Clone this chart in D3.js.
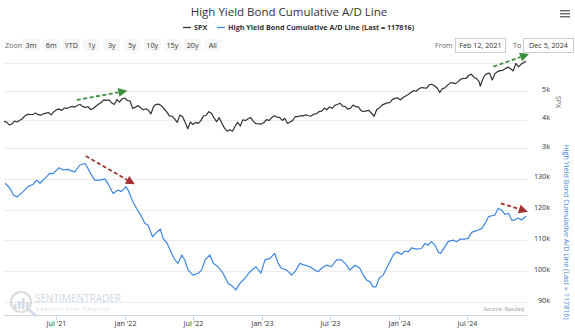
<!DOCTYPE html>
<html><head><meta charset="utf-8">
<script src="https://cdn.jsdelivr.net/npm/d3@7"></script>
<style>
html,body{margin:0;padding:0;background:#fff;}
svg{display:block;font-family:"Open Sans",sans-serif;}
</style></head><body>
<svg id="chart" width="575" height="334"></svg>
<script>
// S&P 500 weekly closes
const spxDates = [
"2021-02-12","2021-02-19","2021-02-26","2021-03-05","2021-03-12","2021-03-19","2021-03-26","2021-04-01","2021-04-09","2021-04-16","2021-04-23","2021-04-30",
"2021-05-07","2021-05-14","2021-05-21","2021-05-28","2021-06-04","2021-06-11","2021-06-18","2021-06-25","2021-07-02","2021-07-09","2021-07-16","2021-07-23","2021-07-30",
"2021-08-06","2021-08-13","2021-08-20","2021-08-27","2021-09-03","2021-09-10","2021-09-17","2021-09-24","2021-10-01","2021-10-08","2021-10-15","2021-10-22","2021-10-29",
"2021-11-05","2021-11-12","2021-11-19","2021-11-26","2021-12-03","2021-12-10","2021-12-17","2021-12-23","2021-12-31",
"2022-01-07","2022-01-14","2022-01-21","2022-01-28","2022-02-04","2022-02-11","2022-02-18","2022-02-25","2022-03-04","2022-03-11","2022-03-18","2022-03-25",
"2022-04-01","2022-04-08","2022-04-14","2022-04-22","2022-04-29","2022-05-06","2022-05-13","2022-05-20","2022-05-27","2022-06-03","2022-06-10","2022-06-17","2022-06-24",
"2022-07-01","2022-07-08","2022-07-15","2022-07-22","2022-07-29","2022-08-05","2022-08-12","2022-08-19","2022-08-26","2022-09-02","2022-09-09","2022-09-16","2022-09-23","2022-09-30",
"2022-10-07","2022-10-14","2022-10-21","2022-10-28","2022-11-04","2022-11-11","2022-11-18","2022-11-25","2022-12-02","2022-12-09","2022-12-16","2022-12-23","2022-12-30",
"2023-01-06","2023-01-13","2023-01-20","2023-01-27","2023-02-03","2023-02-10","2023-02-17","2023-02-24","2023-03-03","2023-03-10","2023-03-17","2023-03-24","2023-03-31",
"2023-04-06","2023-04-14","2023-04-21","2023-04-28","2023-05-05","2023-05-12","2023-05-19","2023-05-26","2023-06-02","2023-06-09","2023-06-16","2023-06-23","2023-06-30",
"2023-07-07","2023-07-14","2023-07-21","2023-07-28","2023-08-04","2023-08-11","2023-08-18","2023-08-25","2023-09-01","2023-09-08","2023-09-15","2023-09-22","2023-09-29",
"2023-10-06","2023-10-13","2023-10-20","2023-10-27","2023-11-03","2023-11-10","2023-11-17","2023-11-24","2023-12-01","2023-12-08","2023-12-15","2023-12-22","2023-12-29",
"2024-01-05","2024-01-12","2024-01-19","2024-01-26","2024-02-02","2024-02-09","2024-02-16","2024-02-23","2024-03-01","2024-03-08","2024-03-15","2024-03-22","2024-03-28",
"2024-04-05","2024-04-12","2024-04-19","2024-04-26","2024-05-03","2024-05-10","2024-05-17","2024-05-24","2024-05-31","2024-06-07","2024-06-14","2024-06-21","2024-06-28",
"2024-07-05","2024-07-12","2024-07-19","2024-07-26","2024-08-02","2024-08-05","2024-08-09","2024-08-16","2024-08-23","2024-08-30","2024-09-06","2024-09-13","2024-09-20","2024-09-27",
"2024-10-04","2024-10-11","2024-10-18","2024-10-25","2024-11-01","2024-11-08","2024-11-15","2024-11-22","2024-11-29","2024-12-05"
];
const spxValues = [
3934,3907,3811,3842,3943,3913,3975,4020,4129,4185,4180,4181,
4233,4174,4156,4204,4230,4247,4166,4281,4352,4370,4327,4412,4395,
4437,4468,4442,4509,4535,4459,4433,4455,4357,4391,4471,4545,4605,
4698,4683,4698,4595,4538,4712,4621,4726,4766,
4677,4662,4398,4432,4500,4419,4349,4385,4329,4204,4463,4543,
4546,4488,4393,4272,4132,4123,4024,3901,4158,4109,3901,3675,3912,
3825,3899,3863,3962,4130,4145,4280,4228,4058,3924,4067,3873,3693,3586,
3640,3583,3752,3901,3771,3993,3965,4026,4072,3934,3852,3845,3840,
3895,3999,3973,4071,4136,4090,4079,3970,4046,3862,3917,3971,4109,
4105,4137,4133,4169,4136,4124,4192,4205,4282,4299,4410,4348,4450,
4399,4505,4536,4582,4478,4464,4370,4406,4516,4457,4450,4320,4288,
4309,4327,4224,4117,4358,4415,4514,4559,4595,4604,4719,4755,4770,
4697,4784,4840,4891,4959,5027,5006,5089,5137,5124,5117,5234,5254,
5204,5123,4967,5100,5128,5223,5303,5305,5278,5347,5431,5465,5460,
5567,5615,5505,5459,5346,5186,5344,5554,5635,5648,5408,5626,5703,5738,
5751,5815,5865,5808,5729,5996,5870,5969,6032,6075
];

// High Yield Bond Cumulative A/D Line
const adDates = [
"2021-02-15","2021-02-28","2021-03-09","2021-03-19","2021-04-04","2021-04-17","2021-05-01","2021-05-10","2021-05-19","2021-06-01","2021-06-14","2021-06-23",
"2021-07-09","2021-07-20","2021-08-02","2021-08-11","2021-08-20","2021-09-02","2021-09-16","2021-09-24","2021-10-03","2021-10-12","2021-10-26","2021-11-08",
"2021-11-17","2021-11-30","2021-12-13","2021-12-22","2022-01-03","2022-01-09","2022-01-18","2022-01-22","2022-01-31","2022-02-14","2022-02-23","2022-03-03",
"2022-03-15","2022-03-23","2022-04-05","2022-04-12","2022-04-23","2022-05-05","2022-05-14","2022-05-22","2022-06-01","2022-06-09","2022-06-18","2022-07-01",
"2022-07-15","2022-07-24","2022-08-02","2022-08-15","2022-08-24","2022-09-06","2022-09-19","2022-10-03","2022-10-16","2022-10-23","2022-11-03","2022-11-16",
"2022-11-30","2022-12-16","2022-12-29","2023-01-09","2023-01-22","2023-02-04","2023-02-13","2023-02-22","2023-03-08","2023-03-21","2023-03-30","2023-04-12",
"2023-04-25","2023-05-09","2023-05-22","2023-05-31","2023-06-09","2023-06-22","2023-07-05","2023-07-19","2023-08-01","2023-08-15","2023-08-23","2023-09-06",
"2023-09-19","2023-09-28","2023-10-07","2023-10-16","2023-10-24","2023-11-01","2023-11-09","2023-11-20","2023-11-29","2023-12-08","2023-12-17","2023-12-26",
"2024-01-08","2024-01-17","2024-01-26","2024-02-04","2024-02-17","2024-03-01","2024-03-10","2024-03-19","2024-03-28","2024-04-06","2024-04-15","2024-04-21",
"2024-05-03","2024-05-11","2024-05-25","2024-06-03","2024-06-12","2024-06-25","2024-07-04","2024-07-13","2024-07-22","2024-07-31","2024-08-09","2024-08-18",
"2024-08-27","2024-09-05","2024-09-13","2024-09-22","2024-10-01","2024-10-10","2024-10-19","2024-10-28","2024-11-05","2024-11-14","2024-11-23","2024-12-05"
];
const adValues = [
128500,126900,124700,124100,125800,127400,128200,129500,128500,130100,131700,131600,
133500,132800,133000,132500,132200,134400,134900,133300,131200,129500,129500,129900,
128200,125200,126300,125800,127400,126300,123600,122500,120400,117700,115500,115000,
111200,112300,113700,110700,109100,105800,103700,102600,105300,103700,100400,98800,
99400,100400,103700,105300,102600,101500,99400,96100,95000,94000,96100,97700,
99900,101500,99400,103700,104200,105800,102600,101000,100400,98800,99900,102600,
102000,101500,100400,99900,101000,102000,101500,103700,103700,102000,100400,102000,
101000,98800,97200,96600,95000,95000,97700,98800,101000,103100,105300,106300,
105500,106600,106300,107600,107200,107400,109000,108500,109600,108500,106300,105800,
108000,109600,110100,109600,110400,110400,110700,112600,113000,113400,113900,115500,
117700,118000,118200,120400,119800,118400,118800,116600,116600,117300,116600,117816
];

const xTickDates = ["2021-07-01","2022-01-01","2022-07-01","2023-01-01","2023-07-01","2024-01-01","2024-07-01"];
const xTickLabels = ["Jul '21","Jan '22","Jul '22","Jan '23","Jul '23","Jan '24","Jul '24"];
const spxTicks = [3000, 4000, 5000, 6000];
const spxTickLabels = ["3k", "4k", "5k", ""];
const adTicks = [90000, 100000, 110000, 120000, 130000, 140000];
const adTickLabels = ["90k", "100k", "110k", "120k", "130k", ""];
const zoomButtons = ["3m","6m","YTD","1y","3y","5y","10y","15y","20y","All"];

// Trend annotations: [start date, start value, end date, end value]
const spxArrows = [
  ["2021-08-25", 4696, "2022-01-07", 5026],
  ["2024-09-09", 5879, "2024-12-13", 6331]
];
const adArrows = [
  ["2021-09-18", 137300, "2022-01-27", 128150],
  ["2024-09-29", 122000, "2024-12-10", 119300]
];

const parse = d3.timeParse("%Y-%m-%d");
const svg = d3.select("#chart");

const plotL = 4, plotR = 527, axisY = 315;
const x = d3.scaleTime()
  .domain([parse("2021-02-12"), parse("2024-12-05")])
  .range([4, 526]);
const ySpx = d3.scaleLinear().domain([3000, 6000]).range([147.7, 63.3]);
const yAd = d3.scaleLinear().domain([90000, 140000]).range([302.3, 147.7]);

// title
svg.append("text").attr("x", 289).attr("y", 15.5).attr("text-anchor", "middle")
  .attr("font-size", 11.5).attr("fill", "#333")
  .text("High Yield Bond Cumulative A/D Line");

// export menu icon
[0, 3, 6].forEach(d => svg.append("rect").attr("x", 560).attr("y", 10 + d).attr("width", 10).attr("height", 1.4).attr("fill", "#666"));

// legend
const leg = svg.append("g").attr("font-size", 7.2).attr("font-weight", "bold").attr("fill", "#333");
leg.append("line").attr("x1", 183).attr("x2", 191).attr("y1", 27.5).attr("y2", 27.5).attr("stroke", "#333").attr("stroke-width", 1.3);
leg.append("text").attr("x", 194).attr("y", 30).text("SPX");
leg.append("line").attr("x1", 217).attr("x2", 225).attr("y1", 27.5).attr("y2", 27.5).attr("stroke", "#3d86e0").attr("stroke-width", 1.3);
leg.append("text").attr("x", 228).attr("y", 30).text("High Yield Bond Cumulative A/D Line (Last = 117816)");

// range selector
const rs = svg.append("g").attr("font-size", 7.2);
rs.append("text").attr("x", 5).attr("y", 47.5).attr("fill", "#666").text("Zoom");
zoomButtons.forEach((b, i) => {
  const cx = 31 + i * 20.2;
  rs.append("rect").attr("x", cx - 8.5).attr("y", 39).attr("width", 17).attr("height", 12)
    .attr("fill", "#f7f7f7");
  rs.append("text").attr("x", cx).attr("y", 47.5).attr("text-anchor", "middle").attr("fill", "#333").text(b);
});
rs.append("text").attr("x", 435).attr("y", 47.5).attr("fill", "#666").text("From");
rs.append("rect").attr("x", 455.5).attr("y", 38.5).attr("width", 50).attr("height", 14)
  .attr("fill", "#fff").attr("stroke", "#ccc").attr("stroke-width", 1);
rs.append("text").attr("x", 480.5).attr("y", 47.5).attr("text-anchor", "middle").attr("fill", "#333").text("Feb 12, 2021");
rs.append("text").attr("x", 513).attr("y", 47.5).attr("fill", "#666").text("To");
rs.append("rect").attr("x", 523.5).attr("y", 38.5).attr("width", 50).attr("height", 14)
  .attr("fill", "#fff").attr("stroke", "#ccc").attr("stroke-width", 1);
rs.append("text").attr("x", 548.5).attr("y", 47.5).attr("text-anchor", "middle").attr("fill", "#333").text("Dec 5, 2024");

// grid lines
const grid = svg.append("g").attr("stroke", "#ececec").attr("stroke-width", 1);
spxTicks.forEach(t => grid.append("line").attr("x1", plotL).attr("x2", plotR)
  .attr("y1", Math.round(ySpx(t)) + 0.5).attr("y2", Math.round(ySpx(t)) + 0.5));
adTicks.forEach(t => grid.append("line").attr("x1", plotL).attr("x2", plotR)
  .attr("y1", Math.round(yAd(t)) + 0.5).attr("y2", Math.round(yAd(t)) + 0.5));

// watermark logo
const logo = svg.append("g").attr("opacity", 0.45);
logo.append("circle").attr("cx", 21).attr("cy", 302).attr("r", 10).attr("fill", "none").attr("stroke", "#b5b5b5").attr("stroke-width", 2.2);
[[14, 5], [18, 8], [22, 11], [26, 7]].forEach(([bx, bh]) =>
  logo.append("rect").attr("x", bx).attr("y", 309 - bh).attr("width", 2.6).attr("height", bh).attr("fill", "#9fb6cc"));
logo.append("line").attr("x1", 28).attr("y1", 309).attr("x2", 35).attr("y2", 315).attr("stroke", "#9fb6cc").attr("stroke-width", 3).attr("stroke-linecap", "round");
logo.append("text").attr("x", 35).attr("y", 302).attr("font-size", 10).attr("fill", "#8eaac4").text("SENTIMENTRADER");
logo.append("text").attr("x", 36).attr("y", 310.5).attr("font-size", 4.8).attr("letter-spacing", 1.2).attr("fill", "#8eaac4").text("Analysis over Emotion");

// source credit
svg.append("text").attr("x", 524).attr("y", 311).attr("text-anchor", "end")
  .attr("font-size", 5.5).attr("fill", "#999").text("Source: Nasdaq");

// x axis
const xg = svg.append("g");
xg.append("line").attr("x1", plotL).attr("x2", plotR).attr("y1", axisY + 0.5).attr("y2", axisY + 0.5).attr("stroke", "#ccd6eb");
xTickDates.forEach((d, i) => {
  const px = Math.round(x(parse(d))) + 0.5;
  xg.append("line").attr("x1", px).attr("x2", px).attr("y1", axisY).attr("y2", axisY + 5).attr("stroke", "#ccd6eb");
  xg.append("text").attr("x", px).attr("y", 326).attr("text-anchor", "middle")
    .attr("font-size", 7.2).attr("fill", "#333").text(xTickLabels[i]);
});

// right y labels
const yl = svg.append("g").attr("font-size", 7.2).attr("fill", "#333").attr("text-anchor", "end");
spxTicks.forEach((t, i) => yl.append("text").attr("x", 550).attr("y", ySpx(t) + 0.8).text(spxTickLabels[i]));
adTicks.forEach((t, i) => yl.append("text").attr("x", 550).attr("y", yAd(t) + 0.8).text(adTickLabels[i]));

// axis titles
svg.append("text").attr("transform", "translate(555.5,102) rotate(90)").attr("text-anchor", "middle")
  .attr("font-size", 7.2).attr("fill", "#666").text("SPX");
svg.append("text").attr("transform", "translate(564,232) rotate(90)").attr("text-anchor", "middle")
  .attr("font-size", 7.2).attr("fill", "#3d86e0").text("High Yield Bond Cumulative A/D Line (Last = 117816)");

// series lines
const spxData = spxDates.map((d, i) => ({ date: parse(d), v: spxValues[i] }));
const adData = adDates.map((d, i) => ({ date: parse(d), v: adValues[i] }));
svg.append("path").datum(spxData)
  .attr("d", d3.line().x(d => x(d.date)).y(d => ySpx(d.v)))
  .attr("fill", "none").attr("stroke", "#333").attr("stroke-width", 1.2).attr("stroke-linejoin", "round");
svg.append("path").datum(adData)
  .attr("d", d3.line().x(d => x(d.date)).y(d => yAd(d.v)))
  .attr("fill", "none").attr("stroke", "#3d86e0").attr("stroke-width", 1.2).attr("stroke-linejoin", "round");

// dashed trend arrows
function arrow(x1, y1, x2, y2, color) {
  const ang = Math.atan2(y2 - y1, x2 - x1), len = 9, hw = 4.5;
  const bx = x2 - len * Math.cos(ang), by = y2 - len * Math.sin(ang);
  svg.append("line").attr("x1", x1).attr("y1", y1).attr("x2", bx).attr("y2", by)
    .attr("stroke", color).attr("stroke-width", 1.8).attr("stroke-dasharray", "4,2.5");
  const px = -Math.sin(ang) * hw, py = Math.cos(ang) * hw;
  svg.append("path").attr("d", `M${x2},${y2}L${bx + px},${by + py}L${bx - px},${by - py}Z`).attr("fill", color);
}
spxArrows.forEach(a => arrow(x(parse(a[0])), ySpx(a[1]), x(parse(a[2])), ySpx(a[3]), "#3b8f3f"));
adArrows.forEach(a => arrow(x(parse(a[0])), yAd(a[1]), x(parse(a[2])), yAd(a[3]), "#a33232"));
</script>
</body></html>
